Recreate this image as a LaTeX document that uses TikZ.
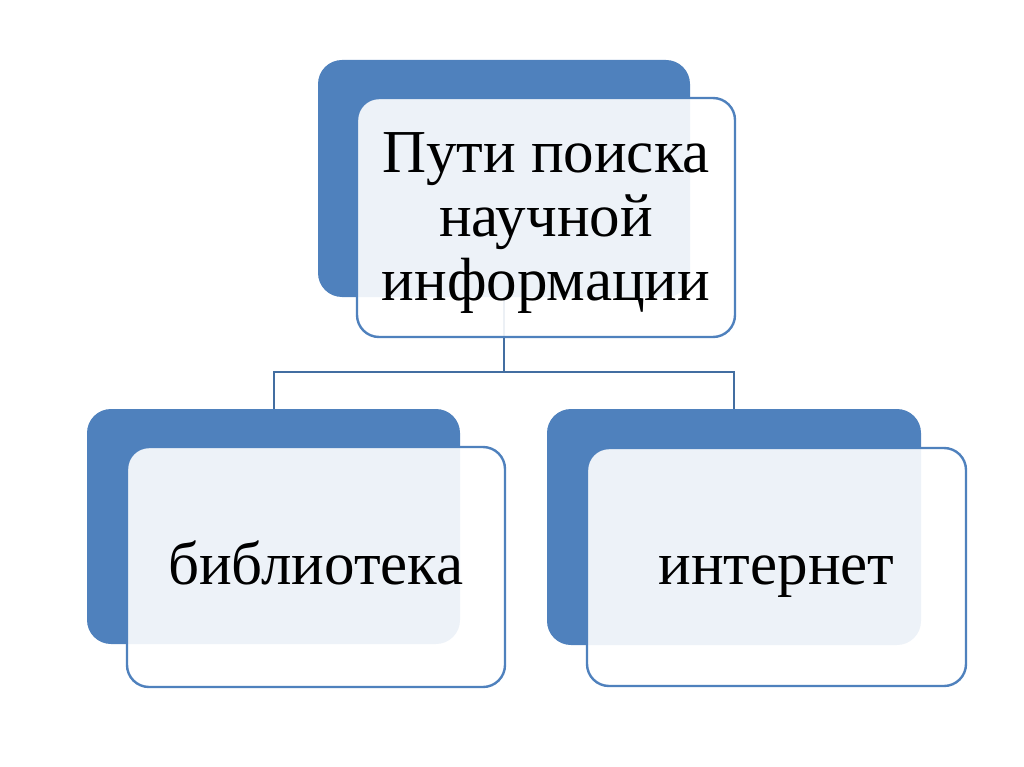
\documentclass[tikz,border=0pt]{standalone}
\usepackage{fontspec}
\setmainfont{Liberation Serif}
\definecolor{boxblue}{HTML}{4F81BD}
\begin{document}
\begin{tikzpicture}[x=1pt,y=-1pt]

\tikzstyle{back}=[rectangle,rounded corners=24pt,fill=boxblue,draw=none]
\tikzstyle{front}=[rectangle,rounded corners=22pt,draw=boxblue,line width=2.4pt,fill=white,fill opacity=0.9,text opacity=1,align=center,font=\fontsize{61}{64}\selectfont]
\tikzstyle{link}=[draw=boxblue!85!black,line width=2pt]

\useasboundingbox (0,0) rectangle (1024,767);

\node[back, minimum width=372pt, minimum height=237pt] (1) at (504,178.5){};
\node[back, minimum width=373pt, minimum height=235pt] (3) at (273.5,526.5){};
\node[back, minimum width=374pt, minimum height=236pt] (5) at (734,527){};

\coordinate (j) at (504,372);
\draw[link] (1.south) -- (j);
\draw[link] (3.north) |- (j) -| (5.north);

\node[front, minimum width=378pt, minimum height=239pt] (2) at (546,217.5){};
\node[front, minimum width=378pt, minimum height=240pt] (4) at (316,567){};
\node[front, minimum width=379pt, minimum height=238pt] (6) at (776.5,567){};

\node[align=center, font=\fontsize{61}{64}\selectfont] (2t) at (546,223){Пути поиска\\научной\\информации};
\node[font=\fontsize{61}{64}\selectfont, text height=45pt, text depth=10pt] (4t) at (316,567){библиотека};
\node[font=\fontsize{61}{64}\selectfont, text height=45pt, text depth=10pt] (6t) at (776.5,567){интернет};

\end{tikzpicture}
\end{document}
